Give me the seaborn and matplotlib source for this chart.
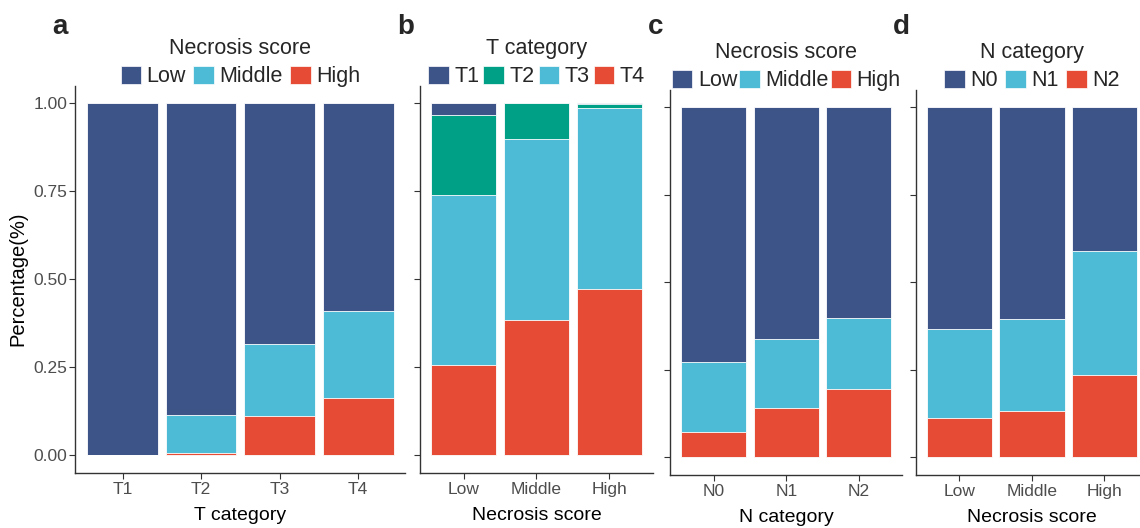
#stacked percentage bars, four panels (a-d)
import matplotlib
matplotlib.use('Agg')
import matplotlib.pyplot as plt
from matplotlib.patches import Patch
import seaborn as sns
import numpy as np

#------------------DATA-------------------------------------------
# panel a: necrosis score within each T category (bottom -> top: High, Middle, Low)
a_cats = ['T1', 'T2', 'T3', 'T4']
a_high = [0.0, 0.007, 0.111, 0.162]
a_middle = [0.0, 0.107, 0.204, 0.247]
a_low = [1.0, 0.886, 0.685, 0.591]

# panel b: T category within each necrosis score (bottom -> top: T4, T3, T2, T1)
b_cats = ['Low', 'Middle', 'High']
b_t4 = [0.256, 0.384, 0.472]
b_t3 = [0.483, 0.514, 0.514]
b_t2 = [0.227, 0.102, 0.011]
b_t1 = [0.034, 0.0, 0.003]

# panel c: necrosis score within each N category
c_cats = ['N0', 'N1', 'N2']
c_high = [0.071, 0.140, 0.194]
c_middle = [0.200, 0.197, 0.203]
c_low = [0.729, 0.663, 0.603]

# panel d: N category within each necrosis score
d_cats = ['Low', 'Middle', 'High']
d_n2 = [0.111, 0.131, 0.234]
d_n1 = [0.255, 0.263, 0.355]
d_n0 = [0.634, 0.606, 0.411]

# npg style colours
col_low = '#3C5488'
col_mid = '#4DBBD5'
col_high = '#E64B35'
col_green = '#00A087'

#------------------PLOTTING---------------------------------------
sns.set_style('white')
plt.rcParams['font.family'] = ['Liberation Sans', 'DejaVu Sans']

fig = plt.figure(figsize=(11.4, 5.28), dpi=100)

ax_a = fig.add_axes([0.0661, 0.105, 0.2895, 0.733])
ax_b = fig.add_axes([0.3684, 0.105, 0.2044, 0.733])
ax_c = fig.add_axes([0.5880, 0.1013, 0.2035, 0.729])
ax_d = fig.add_axes([0.8035, 0.1013, 0.2035, 0.729])


def stacked(ax, cats, segments, colors):
    # segments are given bottom -> top; draw cumulative bars from top down
    cum = np.cumsum(np.array(segments), axis=0)
    for i in range(len(segments) - 1, -1, -1):
        sns.barplot(x=cats, y=cum[i], color=colors[i], width=0.9,
                    edgecolor='white', linewidth=0.6, saturation=1, ax=ax)


stacked(ax_a, a_cats, [a_high, a_middle, a_low], [col_high, col_mid, col_low])
stacked(ax_b, b_cats, [b_t4, b_t3, b_t2, b_t1], [col_high, col_mid, col_green, col_low])
stacked(ax_c, c_cats, [c_high, c_middle, c_low], [col_high, col_mid, col_low])
stacked(ax_d, d_cats, [d_n2, d_n1, d_n0], [col_high, col_mid, col_low])

xlabels = ['T category', 'Necrosis score', 'N category', 'Necrosis score']
leg_titles = ['Necrosis score', 'T category', 'Necrosis score', 'N category']
leg_labels = [['Low', 'Middle', 'High'], ['T1', 'T2', 'T3', 'T4'],
              ['Low', 'Middle', 'High'], ['N0', 'N1', 'N2']]
leg_colors = [[col_low, col_mid, col_high], [col_low, col_green, col_mid, col_high],
              [col_low, col_mid, col_high], [col_low, col_mid, col_high]]
leg_colspace = [0.35, 0.2, 0.1, 0.35]
letters = ['a', 'b', 'c', 'd']

for k, ax in enumerate([ax_a, ax_b, ax_c, ax_d]):
    n = len(ax.get_xticks())
    ax.set_xlim(-0.6, n - 1 + 0.6)
    ax.set_ylim(-0.05, 1.05)
    ax.set_yticks([0, 0.25, 0.5, 0.75, 1.0])
    if k == 0:
        ax.set_yticklabels(['0.00', '0.25', '0.50', '0.75', '1.00'])
        ax.set_ylabel('Percentage(%)', fontsize=14.5, color='black', labelpad=4)
    else:
        ax.set_yticklabels([])
        ax.set_ylabel('')
    ax.set_xlabel(xlabels[k], fontsize=14, color='black', labelpad=7)
    for s in ['top', 'right']:
        ax.spines[s].set_visible(False)
    for s in ['left', 'bottom']:
        ax.spines[s].set_color('#333333')
        ax.spines[s].set_linewidth(1.0)
    ax.tick_params(axis='both', which='both', left=True, bottom=True, length=4,
                   width=0.8, color='#333333', labelcolor='#4D4D4D', labelsize=12.5)
    ax.tick_params(axis='y', pad=2)
    ax.tick_params(axis='x', pad=3)

    handles = [Patch(facecolor=c, edgecolor='white', linewidth=0.5) for c in leg_colors[k]]
    leg = ax.legend(handles, leg_labels[k], title=leg_titles[k], loc='lower center',
                    bbox_to_anchor=(0.5, 0.99), ncol=len(handles), frameon=False,
                    fontsize=15.5, title_fontsize=15.5, handlelength=0.95, handleheight=0.9,
                    handletextpad=0.25, columnspacing=leg_colspace[k],
                    borderaxespad=0, borderpad=0.1, labelspacing=0.3)

    fig.text(ax.get_position().x0 - 0.02, 0.948, letters[k], fontsize=20,
             fontweight='bold', ha='left', va='center')

plt.savefig('out.png', dpi=100)
